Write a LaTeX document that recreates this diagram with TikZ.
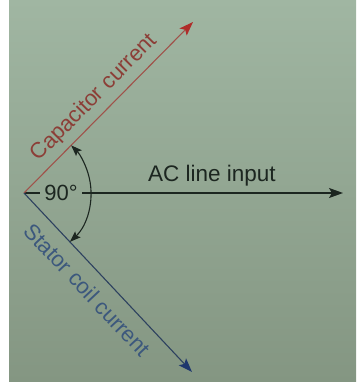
\documentclass[tikz,border=0pt]{standalone}
\usepackage{fontspec}
\setmainfont{Liberation Sans}
\usetikzlibrary{arrows.meta,calc}
\definecolor{bgtop}{RGB}{160,182,162}
\definecolor{bgbot}{RGB}{132,150,130}
\definecolor{capred}{RGB}{140,62,55}
\definecolor{capline}{RGB}{160,82,74}
\definecolor{caphead}{RGB}{175,45,42}
\definecolor{statblue}{RGB}{60,88,125}
\definecolor{statline}{RGB}{45,65,95}
\definecolor{stathead}{RGB}{30,55,110}
\definecolor{ink}{RGB}{28,38,32}
\tikzset{
  lbl/.style={font=\fontsize{22}{26}\selectfont, inner sep=0pt},
  bighead/.style={-{Stealth[length=14pt,width=10pt,inset=3pt]}},
  archead/.style={{Stealth[length=11pt,width=8pt,inset=2pt]}-{Stealth[length=11pt,width=8pt,inset=2pt]}}
}
\begin{document}
\begin{tikzpicture}[x=1pt,y=1pt]
\useasboundingbox (0,0) rectangle (356,-382);
\shade[top color=bgtop, bottom color=bgbot] (0,0) rectangle (356,-382);
\fill[white] (0,0) rectangle (8.5,-382);
% anchor points
\coordinate (O) at (24,-193);
\coordinate (captip) at (193,-22);
\coordinate (stattip) at (192,-372);
\coordinate (actip) at (343,-193);
\coordinate (arcstart) at ($(O)+(-46.82:67)$);
% horizontal AC line with 90 degree label
\node[lbl, inner xsep=4.5pt, text=ink] (ninety) at (61,-193) {90°};
\draw[ink, line width=1.3pt] (O) -- (ninety.west);
\draw[ink, line width=1.3pt, bighead] (ninety.east) -- (actip);
\node[lbl, anchor=base, text=ink, font=\fontsize{22.5}{26}\selectfont] (ac) at (212,-181) {AC line input};
% capacitor current
\draw[capline, line width=1.1pt, -{Stealth[length=14pt,width=10pt,inset=3pt,color=caphead]}] (O) -- (captip);
\node[lbl, rotate=45.34, text=capred] (cap) at (94.2,-97.8) {Capacitor current};
% stator coil current
\draw[statline, line width=1.1pt, -{Stealth[length=14pt,width=10pt,inset=3pt,color=stathead]}] (O) -- (stattip);
\node[lbl, rotate=-46.82, text=statblue] (stat) at (87.4,-289.8) {Stator coil current};
% 90 degree arc
\draw[ink, line width=1.1pt, archead] (arcstart) arc[start angle=-46.82, end angle=45.34, radius=67];
\end{tikzpicture}
\end{document}
